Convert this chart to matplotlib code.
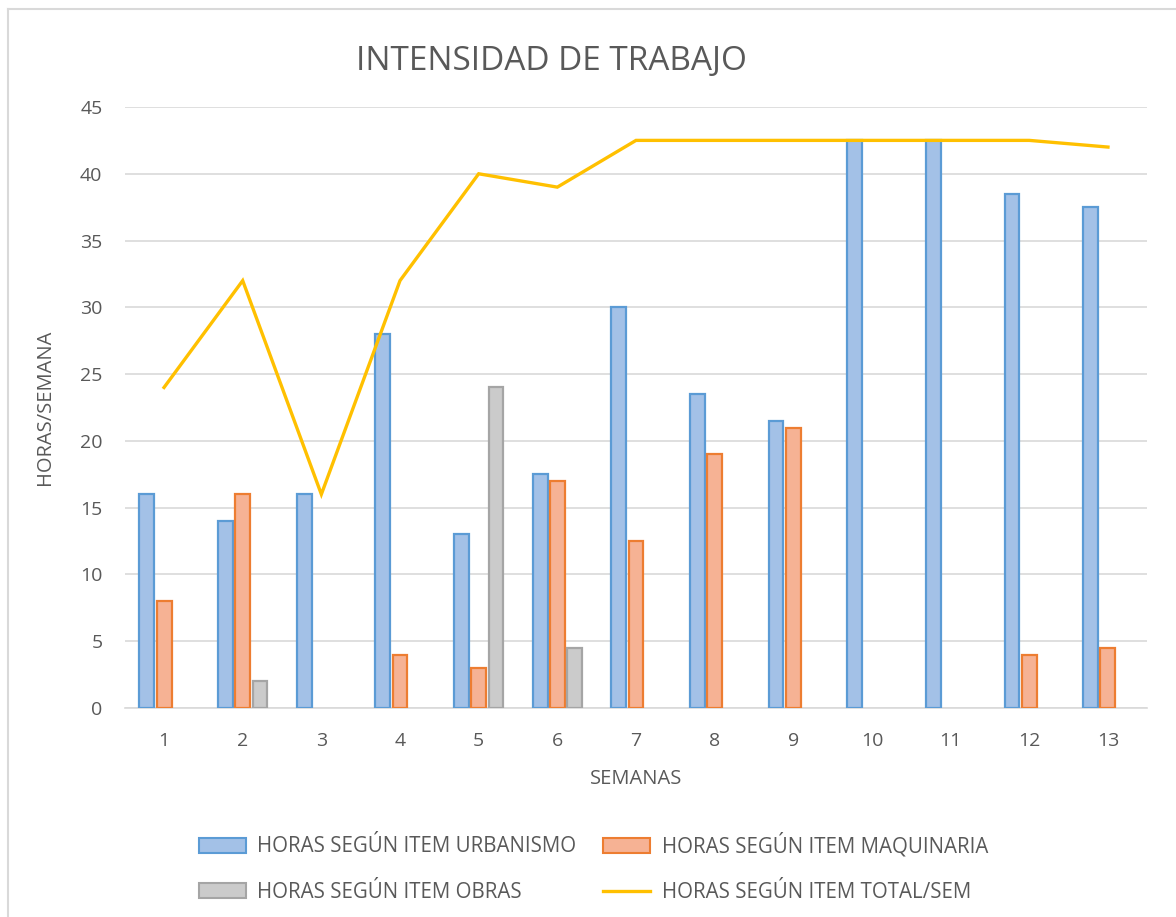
import matplotlib
matplotlib.use("Agg")
import matplotlib.pyplot as plt
from matplotlib.lines import Line2D
from matplotlib.patches import Rectangle
import numpy as np

plt.rcParams['font.family'] = ['Open Sans', 'DejaVu Sans']

weeks = ["1", "2", "3", "4", "5", "6", "7", "8", "9", "10", "11", "12", "13"]
urbanismo = [16, 14, 16, 28, 13, 17.5, 30, 23.5, 21.5, 42.5, 42.5, 38.5, 37.5]
maquinaria = [8, 16, 0, 4, 3, 17, 12.5, 19, 21, 0, 0, 4, 4.5]
obras = [0, 2, 0, 0, 24, 4.5, 0, 0, 0, 0, 0, 0, 0]
total = [24, 32, 16, 32, 40, 39, 42.5, 42.5, 42.5, 42.5, 42.5, 42.5, 42]

series_labels = ["HORAS SEGÚN ITEM URBANISMO", "HORAS SEGÚN ITEM MAQUINARIA",
                 "HORAS SEGÚN ITEM OBRAS", "HORAS SEGÚN ITEM TOTAL/SEM"]

W, H = 1176, 917
fig = plt.figure(figsize=(W / 100, H / 100), dpi=100)
ax = fig.add_axes([124.7 / W, 1 - 708 / H, (1147.3 - 124.7) / W, (708 - 107) / H])

txt = "#595959"
x = np.arange(len(weeks))
bw = 0.19
off = 0.22

fills = ["#a3c1e7", "#f6b294", "#cbcbcb"]
edges = ["#5b9bd5", "#ed7d31", "#a5a5a5"]
for i, vals in enumerate([urbanismo, maquinaria, obras]):
    xs = x + (i - 1) * off
    mask = np.array(vals) > 0
    ax.bar(xs[mask], np.array(vals)[mask], width=bw, color=fills[i],
           edgecolor=edges[i], linewidth=1.6, zorder=3)

ax.plot(x, total, color="#ffc000", linewidth=2.4, zorder=4, solid_joinstyle="miter")

ax.set_xlim(-0.5, len(weeks) - 0.5)
ax.set_ylim(0, 45)
ax.set_yticks(range(0, 46, 5))
ax.set_xticks(x)
ax.set_xticklabels(weeks)
ax.grid(axis="y", color="#d9d9d9", linewidth=1.2, zorder=0)
ax.set_axisbelow(True)
for s in ["top", "right", "left"]:
    ax.spines[s].set_visible(False)
ax.spines["bottom"].set_color("#d9d9d9")
ax.spines["bottom"].set_linewidth(1.2)
ax.tick_params(axis="both", length=0, labelsize=14, colors=txt)
ax.tick_params(axis="y", pad=16)
ax.tick_params(axis="x", pad=17)

ax.set_xlabel("SEMANAS", fontsize=14.5, color=txt, labelpad=14)
ax.set_ylabel("HORAS/SEMANA", fontsize=14.5, color=txt, labelpad=18)

fig.text(551 / W, 1 - 62 / H, "INTENSIDAD DE TRABAJO", ha="center", va="center",
         fontsize=24, color=txt)

handles = [
    Rectangle((0, 0), 1, 1, facecolor=fills[0], edgecolor=edges[0], linewidth=1.5),
    Rectangle((0, 0), 1, 1, facecolor=fills[2], edgecolor=edges[2], linewidth=1.5),
    Rectangle((0, 0), 1, 1, facecolor=fills[1], edgecolor=edges[1], linewidth=1.5),
    Line2D([0], [0], color="#ffc000", linewidth=2.4),
]
labels = [series_labels[0], series_labels[2], series_labels[1], series_labels[3]]
leg = fig.legend(handles, labels, ncol=2, loc="center left",
                 bbox_to_anchor=(180 / W, 1 - 868 / H), frameon=False,
                 fontsize=14.8, handlelength=2.3, handleheight=0.75,
                 columnspacing=1.3, labelspacing=1.2, handletextpad=0.55)
for t in leg.get_texts():
    t.set_color(txt)

# chart area border
fig.add_artist(Line2D([8 / W, 8 / W], [0, 1 - 9 / H], color="#d9d9d9", linewidth=1.5,
                      transform=fig.transFigure))
fig.add_artist(Line2D([8 / W, 1], [1 - 9 / H, 1 - 9 / H], color="#d9d9d9", linewidth=1.5,
                      transform=fig.transFigure))

fig.savefig("out.png", dpi=100, facecolor="white")
